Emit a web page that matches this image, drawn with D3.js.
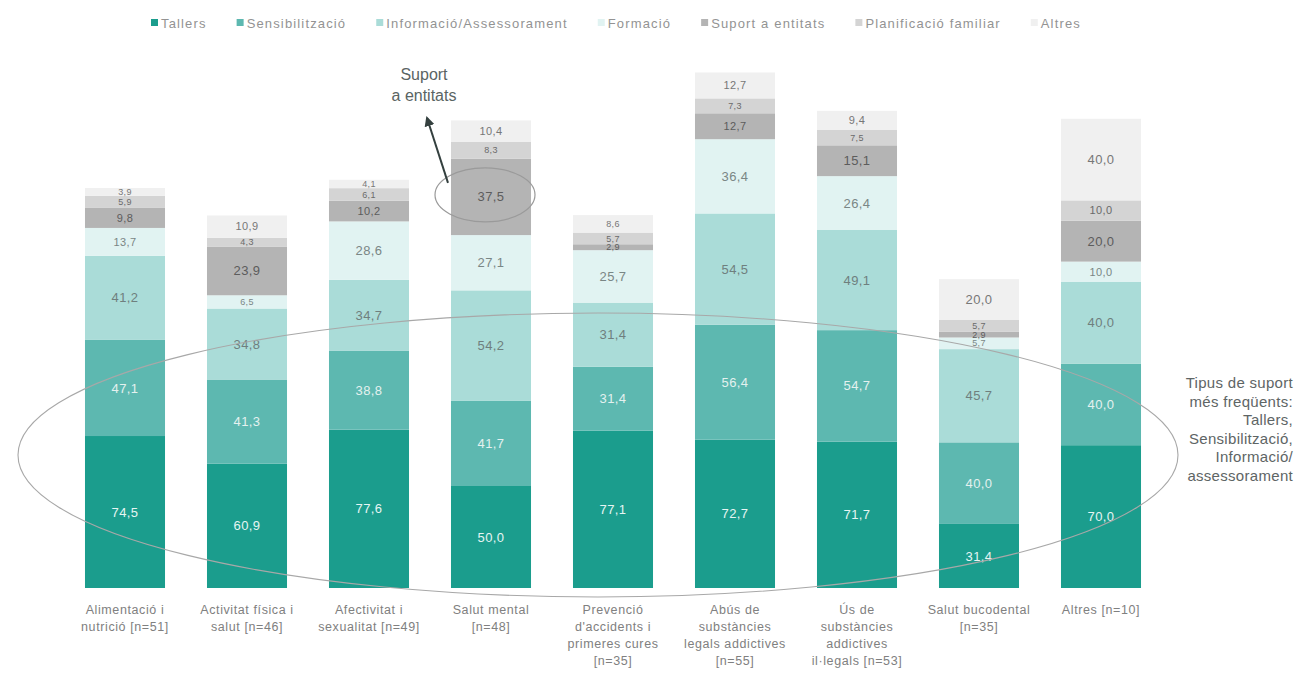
<!DOCTYPE html>
<html lang="ca">
<head>
<meta charset="utf-8">
<script src="https://cdn.jsdelivr.net/npm/d3@7/dist/d3.min.js"></script>
<style>
  html, body { margin: 0; padding: 0; background: #ffffff; }
  svg { display: block; font-family: "Liberation Sans", Arial, sans-serif; }
</style>
</head>
<body>
<svg id="chart" width="1299" height="673"></svg>
<script>
// Àmbits temàtics (etiqueta de l'eix, en línies)
const categories = [
  ["Alimentació i", "nutrició [n=51]"],
  ["Activitat física i", "salut [n=46]"],
  ["Afectivitat i", "sexualitat [n=49]"],
  ["Salut mental", "[n=48]"],
  ["Prevenció", "d'accidents i", "primeres cures", "[n=35]"],
  ["Abús de", "substàncies", "legals addictives", "[n=55]"],
  ["Ús de", "substàncies", "addictives", "il·legals [n=53]"],
  ["Salut bucodental", "[n=35]"],
  ["Altres [n=10]"]
];

// Tipus de suport (ordre d'apilament, de baix a dalt)
const seriesNames = ["Tallers", "Sensibilització", "Informació/Assessorament", "Formació",
                     "Suport a entitats", "Planificació familiar", "Altres"];

// Percentatges per àmbit
const tallers         = [74.5, 60.9, 77.6, 50.0, 77.1, 72.7, 71.7, 31.4, 70.0];
const sensibilitzacio = [47.1, 41.3, 38.8, 41.7, 31.4, 56.4, 54.7, 40.0, 40.0];
const informacio      = [41.2, 34.8, 34.7, 54.2, 31.4, 54.5, 49.1, 45.7, 40.0];
const formacio        = [13.7,  6.5, 28.6, 27.1, 25.7, 36.4, 26.4,  5.7, 10.0];
const suportEntitats  = [ 9.8, 23.9, 10.2, 37.5,  2.9, 12.7, 15.1,  2.9, 20.0];
const planificacio    = [ 5.9,  4.3,  6.1,  8.3,  5.7,  7.3,  7.5,  5.7, 10.0];
const altres          = [ 3.9, 10.9,  4.1, 10.4,  8.6, 12.7,  9.4, 20.0, 40.0];

const seriesValues = [tallers, sensibilitzacio, informacio, formacio, suportEntitats, planificacio, altres];
const colors = ["#1b9d8d", "#5db8b0", "#aadcd8", "#e1f3f2", "#b4b4b4", "#d4d4d4", "#f0f0f0"];
const labelColors = ["#e6f5f3", "#e4f1ef", "#6f7f7e", "#7a8685", "#5c5c5c", "#6a6a6a", "#777777"];

const svg = d3.select("#chart");
const fmt = v => v.toFixed(1).replace(".", ",");

// Taula per a d3.stack
const keys = categories.map((c, i) => i);
const rows = keys.map(i => {
  const r = { idx: i };
  seriesNames.forEach((s, j) => { r[s] = seriesValues[j][i]; });
  return r;
});
const stacked = d3.stack().keys(seriesNames)(rows);

const x = d3.scaleBand().domain(keys).range([64, 1162]).paddingInner(0.344).paddingOuter(0.172);
const y = d3.scaleLinear().domain([0, 250]).range([588, 78]);
const color = d3.scaleOrdinal().domain(seriesNames).range(colors);

// Barres apilades
const layers = svg.append("g").selectAll("g.layer")
  .data(stacked).join("g").attr("class", "layer")
  .attr("fill", d => color(d.key));

layers.selectAll("rect")
  .data(d => d)
  .join("rect")
  .attr("x", d => x(d.data.idx))
  .attr("width", x.bandwidth())
  .attr("y", d => y(d[1]))
  .attr("height", d => y(d[0]) - y(d[1]));

// Valors dins de cada tram
stacked.forEach((layer, j) => {
  svg.append("g").selectAll("text")
    .data(layer).join("text")
    .attr("x", d => x(d.data.idx) + x.bandwidth() / 2)
    .attr("y", d => (y(d[0]) + y(d[1])) / 2)
    .attr("dy", "0.35em")
    .attr("text-anchor", "middle")
    .attr("fill", labelColors[j])
    .style("font-size", d => {
      const h = y(d[0]) - y(d[1]);
      return h < 18 ? "9px" : (h < 30 ? "11px" : "13px");
    })
    .style("letter-spacing", "0.4px")
    .text(d => fmt(d[1] - d[0]));
});

// Eix de categories
const xAxis = svg.append("g");
categories.forEach((lines, i) => {
  const t = xAxis.append("text")
    .attr("x", x(i) + x.bandwidth() / 2)
    .attr("y", 614)
    .attr("text-anchor", "middle")
    .attr("fill", "#808080")
    .style("font-size", "12.5px")
    .style("letter-spacing", "0.6px");
  lines.forEach((ln, k) => {
    t.append("tspan")
      .attr("x", x(i) + x.bandwidth() / 2)
      .attr("dy", k === 0 ? 0 : 17)
      .text(ln);
  });
});

// Llegenda
const legend = svg.append("g");
let lx = 151;
seriesNames.forEach((s, j) => {
  legend.append("rect")
    .attr("x", lx).attr("y", 19).attr("width", 7).attr("height", 7)
    .attr("fill", colors[j]);
  const t = legend.append("text")
    .attr("x", lx + 10).attr("y", 23).attr("dy", "0.35em")
    .attr("fill", "#939393")
    .style("font-size", "13px")
    .style("letter-spacing", "1.15px")
    .text(s);
  lx += 10 + t.node().getComputedTextLength() + 30;
});

// Anotació: suport a entitats en salut mental
const mentalIdx = 3;
const suportLayer = stacked[4][mentalIdx];
const cx = x(mentalIdx) + x.bandwidth() / 2;
const cy = (y(suportLayer[0]) + y(suportLayer[1])) / 2;

svg.append("ellipse")
  .attr("cx", cx - 6).attr("cy", cy - 2)
  .attr("rx", 50).attr("ry", 27)
  .attr("fill", "none").attr("stroke", "#9a9a9a").attr("stroke-width", 1.2);

svg.append("defs").append("marker")
  .attr("id", "arrow").attr("viewBox", "0 0 10 10")
  .attr("refX", 8).attr("refY", 5)
  .attr("markerWidth", 5).attr("markerHeight", 5)
  .attr("orient", "auto-start-reverse")
  .append("path").attr("d", "M0,0 L10,5 L0,10 z").attr("fill", "#34403f");

svg.append("line")
  .attr("x1", cx - 43).attr("y1", cy - 14)
  .attr("x2", cx - 64).attr("y2", 118)
  .attr("stroke", "#34403f").attr("stroke-width", 2)
  .attr("marker-end", "url(#arrow)");

const ann = svg.append("text")
  .attr("x", 424).attr("y", 80)
  .attr("text-anchor", "middle")
  .attr("fill", "#5a6463")
  .style("font-size", "16px");
ann.append("tspan").attr("x", 424).attr("dy", 0).text("Suport");
ann.append("tspan").attr("x", 424).attr("dy", 21).text("a entitats");

// Anotació: tipus de suport més freqüents
svg.append("ellipse")
  .attr("cx", 598).attr("cy", 455)
  .attr("rx", 580).attr("ry", 142)
  .attr("fill", "none").attr("stroke", "#a8a8a8").attr("stroke-width", 1.1);

const side = ["Tipus de suport", "més freqüents:", "Tallers,", "Sensibilització,", "Informació/", "assessorament"];
const st = svg.append("text")
  .attr("x", 1293).attr("y", 388)
  .attr("text-anchor", "end")
  .attr("fill", "#5e6565")
  .style("font-size", "15px")
  .style("letter-spacing", "0.3px");
side.forEach((ln, k) => {
  st.append("tspan").attr("x", 1293).attr("dy", k === 0 ? 0 : 18.6).text(ln);
});
</script>
</body>
</html>
